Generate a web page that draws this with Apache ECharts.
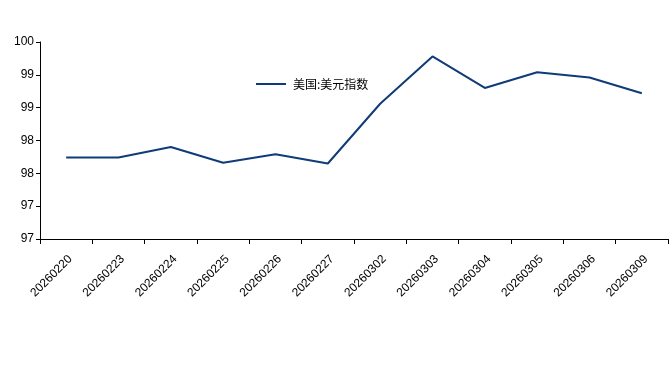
<!DOCTYPE html>
<html><head><meta charset="utf-8">
<script src="https://cdn.jsdelivr.net/npm/echarts@6/dist/echarts.min.js"></script>
<style>html,body{margin:0;padding:0;background:#fff}#c{width:671px;height:375px}</style>
</head><body><div id="c"></div>
<script>
const categories = ['20260220','20260223','20260224','20260225','20260226','20260227','20260302','20260303','20260304','20260305','20260306','20260309'];
const seriesName = '美国:美元指数';
const values = [98.24, 98.24, 98.40, 98.16, 98.29, 98.15, 99.06, 99.78, 99.30, 99.54, 99.46, 99.22];
const yMin = 97, yMax = 100, yStep = 0.5;

const chart = echarts.init(document.getElementById('c'));
chart.setOption({
  animation: false,
  grid: {left: 40, right: 3, top: 42, bottom: 136},
  legend: {
    data: [{name: seriesName, icon: 'path://M0,0 L30,0 L30,2 L0,2 Z'}],
    left: 251, top: 73, itemWidth: 34, itemHeight: 2, itemGap: 6,
    textStyle: {fontFamily: 'Noto Sans CJK SC', fontSize: 12, color: '#000'}
  },
  xAxis: {
    type: 'category', data: categories, boundaryGap: true,
    axisLine: {lineStyle: {color: '#000', width: 1}},
    axisTick: {show: true, length: 5, lineStyle: {color: '#000'}},
    axisLabel: {rotate: 45, color: '#000', fontFamily: 'Liberation Sans', fontSize: 12, margin: 14,
      verticalAlign: 'top', interval: 0}
  },
  yAxis: {
    type: 'value', min: yMin, max: yMax, interval: yStep,
    axisLine: {show: true, lineStyle: {color: '#000', width: 1}},
    axisTick: {show: true, length: 4, lineStyle: {color: '#000'}},
    splitLine: {show: false},
    axisLabel: {color: '#000', fontFamily: 'Liberation Sans', fontSize: 12, margin: 6,
      formatter: v => String(Math.floor(v + 1e-9))}
  },
  series: [{
    name: seriesName, type: 'line', data: values, symbol: 'none',
    lineStyle: {color: '#0f3b78', width: 2}, itemStyle: {color: '#0f3b78'}
  }]
});
</script></body></html>
